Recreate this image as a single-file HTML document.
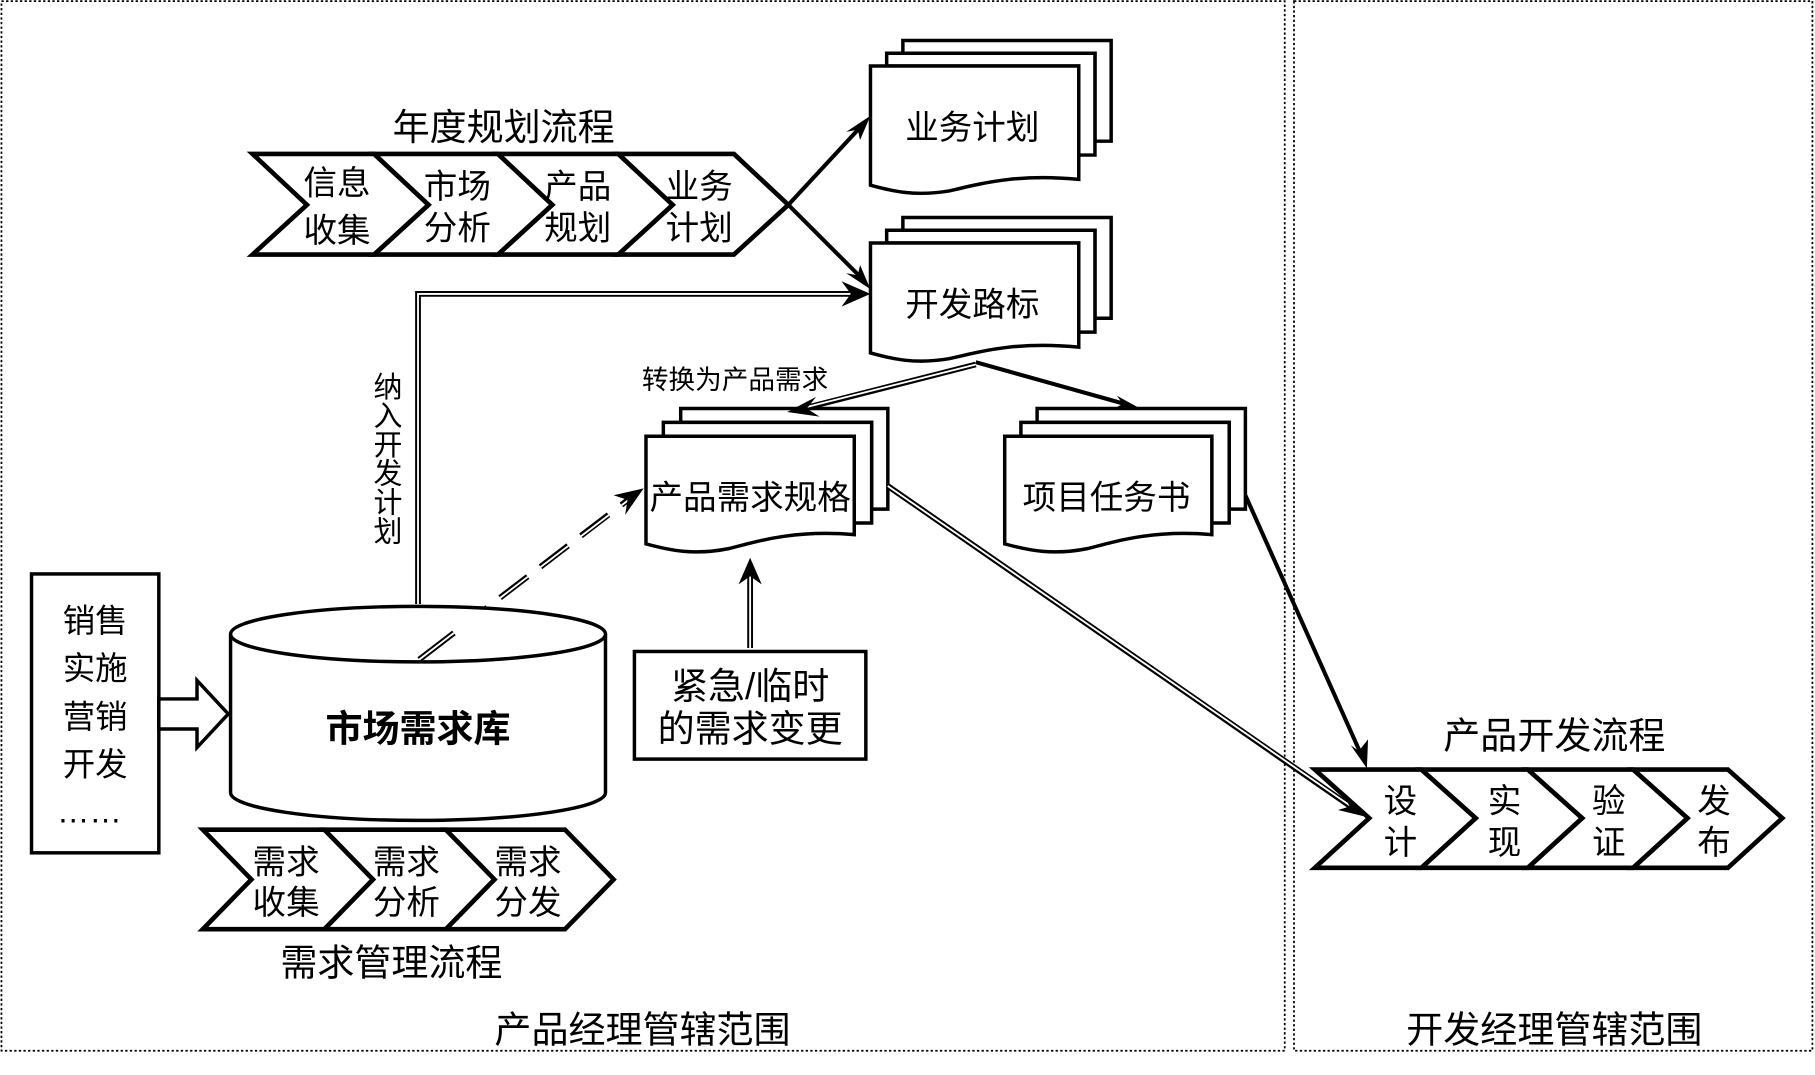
<!DOCTYPE html>
<html><head><meta charset="utf-8"><style>
html,body{margin:0;padding:0;background:#fff;}
svg{display:block;}
text{font-family:"Liberation Sans","Noto Sans CJK SC",sans-serif;fill:#000;}
</style></head><body>
<svg width="1815" height="1075" viewBox="0 0 1568 929" xmlns="http://www.w3.org/2000/svg">
<rect width="1568" height="929" fill="#fff"/>
<!-- scope boxes -->
<rect x="1" y="1" width="1109" height="907" fill="none" stroke="#000" stroke-width="1.5" stroke-dasharray="2,2"/>
<rect x="1118" y="1" width="448" height="907" fill="none" stroke="#000" stroke-width="1.5" stroke-dasharray="2,2"/>
<text x="555" y="901" font-size="32" text-anchor="middle">产品经理管辖范围</text>
<text x="1343" y="901" font-size="32" text-anchor="middle">开发经理管辖范围</text>

<!-- annual planning chevrons -->
<text x="435" y="121" font-size="32" text-anchor="middle">年度规划流程</text>
<g fill="#fff" stroke="#000" stroke-width="4" stroke-linejoin="miter">
<polygon points="534,133 634,133 681,177 634,220 534,220 581,177"/>
<polygon points="430,133 534,133 581,177 534,220 430,220 477,177"/>
<polygon points="323,133 430,133 477,177 430,220 323,220 370,177"/>
<polygon points="218,133 323,133 370,177 323,220 218,220 265,177"/>
</g>
<g font-size="29" text-anchor="middle">
<text x="291" y="168">信息</text><text x="291" y="209">收集</text>
<text x="395" y="171">市场</text><text x="395" y="207">分析</text>
<text x="499" y="171">产品</text><text x="499" y="207">规划</text>
<text x="604" y="171">业务</text><text x="604" y="207">计划</text>
</g>

<!-- doc stacks -->
<g fill="#fff" stroke="#000" stroke-width="3">
<path d="M780,35 H960 V122 H946 V46 H780 Z"/>
<path d="M766,46 H946 V134 H932 V57 H766 Z"/>
<path d="M752,57 H932 V155 C880,150 850,158 820,165 C790,170 770,165 752,160 Z"/>
<path d="M780,188 H960 V275 H946 V199 H780 Z"/>
<path d="M766,199 H946 V287 H932 V210 H766 Z"/>
<path d="M752,210 H932 V300 C880,295 850,303 820,310 C790,315 770,310 752,305 Z"/>
<path d="M588,353 H767 V440 H753 V365 H588 Z"/>
<path d="M573,365 H753 V452 H738 V377 H573 Z"/>
<path d="M558,377 H738 V462 C690,458 660,466 630,474 C600,480 580,476 558,470 Z"/>
<path d="M896,353 H1076 V440 H1062 V365 H896 Z"/>
<path d="M882,365 H1062 V452 H1047 V377 H882 Z"/>
<path d="M868,377 H1047 V462 C1000,458 970,466 940,474 C910,480 890,476 868,470 Z"/>
</g>
<g font-size="29" text-anchor="middle">
<text x="840" y="120">业务计划</text>
<text x="840" y="273">开发路标</text>
<text x="648" y="440">产品需求规格</text>
<text x="956" y="440">项目任务书</text>
</g>

<!-- arrows -->
<g stroke="#000" stroke-width="3.5" fill="none">
<line x1="681" y1="177" x2="745" y2="108"/>
<line x1="681" y1="177" x2="745" y2="241"/>
<line x1="843" y1="313" x2="975" y2="350"/>
<line x1="1076" y1="428" x2="1176" y2="652"/>
</g>
<g fill="#000">
<polygon points="752,100 731,114 741,112 743,121"/>
<polygon points="752,250 731,236 741,238 743,229"/>
<polygon points="985,353 961,354 970,349 965,342"/>
<polygon points="1181,664 1167,644 1174,649 1182,639"/>
</g>

<!-- double lines -->
<g fill="none" stroke="#000" stroke-width="5">
<polyline points="361,522 361,254 742,254"/>
<line x1="843" y1="315" x2="690" y2="354"/>
<line x1="767" y1="420" x2="1170" y2="699"/>
<line x1="648" y1="560" x2="648" y2="492"/>
<line x1="362" y1="570" x2="545" y2="430" stroke-dasharray="30,14"/>
</g>
<g fill="none" stroke="#fff" stroke-width="1.6">
<polyline points="361,524 361,254 744,254"/>
<line x1="843" y1="315" x2="688" y2="354"/>
<line x1="767" y1="420" x2="1172" y2="700"/>
<line x1="648" y1="562" x2="648" y2="490"/>
<line x1="362" y1="570" x2="547" y2="429" stroke-dasharray="30,14"/>
</g>
<g fill="#000">
<polygon points="752,254 727,243 735,254 727,265"/>
<polygon points="680,356 705,343 697,353 708,360"/>
<polygon points="1181,706 1162,688 1166,697 1156,700"/>
<polygon points="648,482 638,505 648,498 658,505"/>
<polygon points="556,422 530,428 542,432 540,445"/>
</g>
<text x="635" y="336" font-size="23" text-anchor="middle">转换为产品需求</text>
<g font-size="25" text-anchor="middle">
<text x="335" y="343">纳</text><text x="335" y="368">入</text><text x="335" y="393">开</text>
<text x="335" y="418">发</text><text x="335" y="443">计</text><text x="335" y="468">划</text>
</g>

<!-- urgent box -->
<rect x="548" y="563" width="200" height="93" fill="#fff" stroke="#000" stroke-width="3"/>
<text x="648" y="604" font-size="32" text-anchor="middle">紧急/临时</text>
<text x="648" y="641" font-size="32" text-anchor="middle">的需求变更</text>

<!-- cylinder -->
<path d="M199,548 V685 A162,24 0 0 0 523,685 V548" fill="#fff" stroke="#000" stroke-width="3"/>
<ellipse cx="361" cy="548" rx="162" ry="24" fill="#fff" stroke="#000" stroke-width="3"/>
<text x="361" y="641" font-size="32" font-weight="bold" text-anchor="middle">市场需求库</text>
<line x1="362" y1="570" x2="392" y2="547" stroke="#000" stroke-width="5"/>
<line x1="362" y1="570" x2="392" y2="547" stroke="#fff" stroke-width="1.6"/>

<!-- left source box -->
<rect x="27" y="496" width="110" height="241" fill="#fff" stroke="#000" stroke-width="3"/>
<g font-size="28" text-anchor="middle">
<text x="82" y="546">销售</text><text x="82" y="587">实施</text><text x="82" y="629">营销</text><text x="82" y="670">开发</text><text x="77" y="711">……</text>
</g>
<polygon points="137,604 170,604 170,588 197,617 170,646 170,630 137,630" fill="#fff" stroke="#000" stroke-width="3"/>

<!-- demand mgmt chevrons -->
<g fill="#fff" stroke="#000" stroke-width="4">
<polygon points="385,717 488,717 530,760 488,803 385,803 427,760"/>
<polygon points="280,717 385,717 427,760 385,803 280,803 322,760"/>
<polygon points="175,717 280,717 322,760 280,803 175,803 217,760"/>
</g>
<g font-size="29" text-anchor="middle">
<text x="247" y="755">需求</text><text x="247" y="790">收集</text>
<text x="351" y="755">需求</text><text x="351" y="790">分析</text>
<text x="456" y="755">需求</text><text x="456" y="790">分发</text>
</g>
<text x="338" y="843" font-size="32" text-anchor="middle">需求管理流程</text>

<!-- product dev chevrons -->
<text x="1343" y="647" font-size="32" text-anchor="middle">产品开发流程</text>
<g fill="#fff" stroke="#000" stroke-width="4">
<polygon points="1411,665 1493,665 1540,707 1493,750 1411,750 1458,707"/>
<polygon points="1320,665 1411,665 1458,707 1411,750 1320,750 1367,707"/>
<polygon points="1228,665 1320,665 1367,707 1320,750 1228,750 1275,707"/>
<polygon points="1136,665 1228,665 1275,707 1228,750 1136,750 1183,707"/>
</g>
<g font-size="29" text-anchor="middle">
<text x="1210" y="702">设</text><text x="1210" y="738">计</text>
<text x="1300" y="702">实</text><text x="1300" y="738">现</text>
<text x="1390" y="702">验</text><text x="1390" y="738">证</text>
<text x="1481" y="702">发</text><text x="1481" y="738">布</text>
</g>
</svg>
</body></html>
